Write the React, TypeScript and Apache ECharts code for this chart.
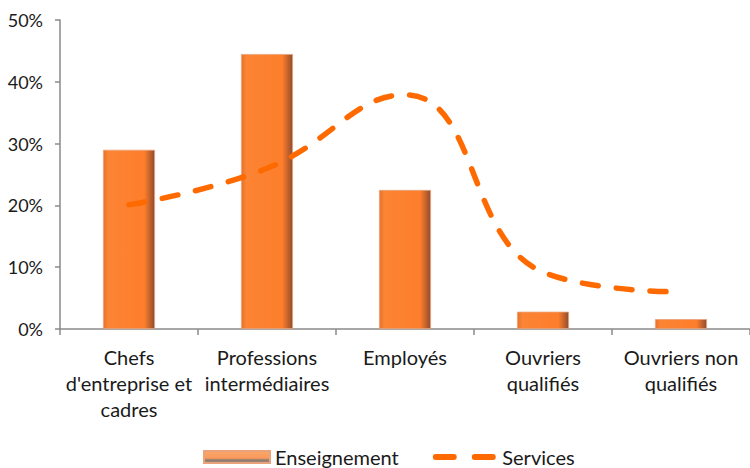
import React, { useEffect, useRef } from "react";
import * as echarts from "echarts";

const categories = [
  "Chefs\nd'entreprise et\ncadres",
  "Professions\nintermédiaires",
  "Employés",
  "Ouvriers\nqualifiés",
  "Ouvriers non\nqualifiés",
];
const enseignement = [29.0, 44.5, 22.5, 2.8, 1.6];
const services = [20.1, 26.0, 37.9, 9.2, 6.0];
const seriesNames = ["Enseignement", "Services"];

const FONT = "Lato, 'Open Sans', sans-serif";
const DASH_ICON =
  "path://M0,0L0.1,0M0,12L0.1,12M3,3h18a3,3 0 0 1 0,6h-18a3,3 0 0 1 0,-6zM42,3h18a3,3 0 0 1 0,6h-18a3,3 0 0 1 0,-6z";

export default function App() {
  const ref = useRef<HTMLDivElement>(null);
  useEffect(() => {
    if (!ref.current) return;
    const chart = echarts.init(ref.current, null, { renderer: "svg" });
    const barGrad = new echarts.graphic.LinearGradient(0, 0, 1, 0, [
      { offset: 0, color: "#E5732C" },
      { offset: 0.1, color: "#FC8434" },
      { offset: 0.8, color: "#FD7E2B" },
      { offset: 0.9, color: "#C9642C" },
      { offset: 1, color: "#8E4E2E" },
    ]);
    const legendGrad = new echarts.graphic.LinearGradient(0, 0, 0, 1, [
      { offset: 0, color: "#FBA56A" },
      { offset: 0.6, color: "#F99A5A" },
      { offset: 0.75, color: "#8C7A6E" },
      { offset: 1, color: "#9A8A80" },
    ]);
    chart.setOption({
      animation: false,
      textStyle: { fontFamily: FONT },
      grid: { left: 60, top: 20, width: 695, height: 309 },
      legend: {
        bottom: -4,
        left: 198,
        itemWidth: 66,
        itemHeight: 12,
        itemGap: 34,
        textStyle: { fontSize: 20, color: "#1a1a1a", fontFamily: FONT },
        data: [
          { name: seriesNames[0], icon: "rect", itemStyle: { color: legendGrad } },
          { name: seriesNames[1], icon: DASH_ICON, itemStyle: { color: "#FF6A00" } },
        ],
      },
      xAxis: {
        type: "category",
        data: categories,
        axisLine: { lineStyle: { color: "#8a8a8a", width: 1.5 } },
        axisTick: { show: true, length: 6, lineStyle: { color: "#8a8a8a", width: 1.5 } },
        axisLabel: {
          interval: 0,
          fontSize: 20,
          lineHeight: 26,
          color: "#1a1a1a",
          margin: 15,
          fontFamily: FONT,
        },
      },
      yAxis: {
        type: "value",
        min: 0,
        max: 50,
        interval: 10,
        splitLine: { show: false },
        axisLine: { show: true, lineStyle: { color: "#8a8a8a", width: 1.5 } },
        axisTick: { show: true, length: 5, lineStyle: { color: "#8a8a8a", width: 1.5 } },
        axisLabel: {
          formatter: "{value}%",
          fontSize: 18,
          color: "#1a1a1a",
          margin: 17,
          fontFamily: FONT,
        },
      },
      series: [
        {
          name: seriesNames[0],
          type: "bar",
          data: enseignement,
          barWidth: 52,
          itemStyle: {
            color: barGrad,
            borderColor: "#E9A27A",
            borderWidth: 0.8,
          },
        },
        {
          name: seriesNames[1],
          type: "line",
          data: services,
          smooth: 0.45,
          symbol: "none",
          lineStyle: {
            color: "#FF6A00",
            width: 5.5,
            type: [16, 18],
            cap: "round",
          },
          itemStyle: { color: "#FF6A00" },
        },
      ],
    });
    return () => chart.dispose();
  }, []);
  return (
    <div
      ref={ref}
      style={{ position: "absolute", left: 0, top: 0, width: 750, height: 468 }}
    />
  );
}
